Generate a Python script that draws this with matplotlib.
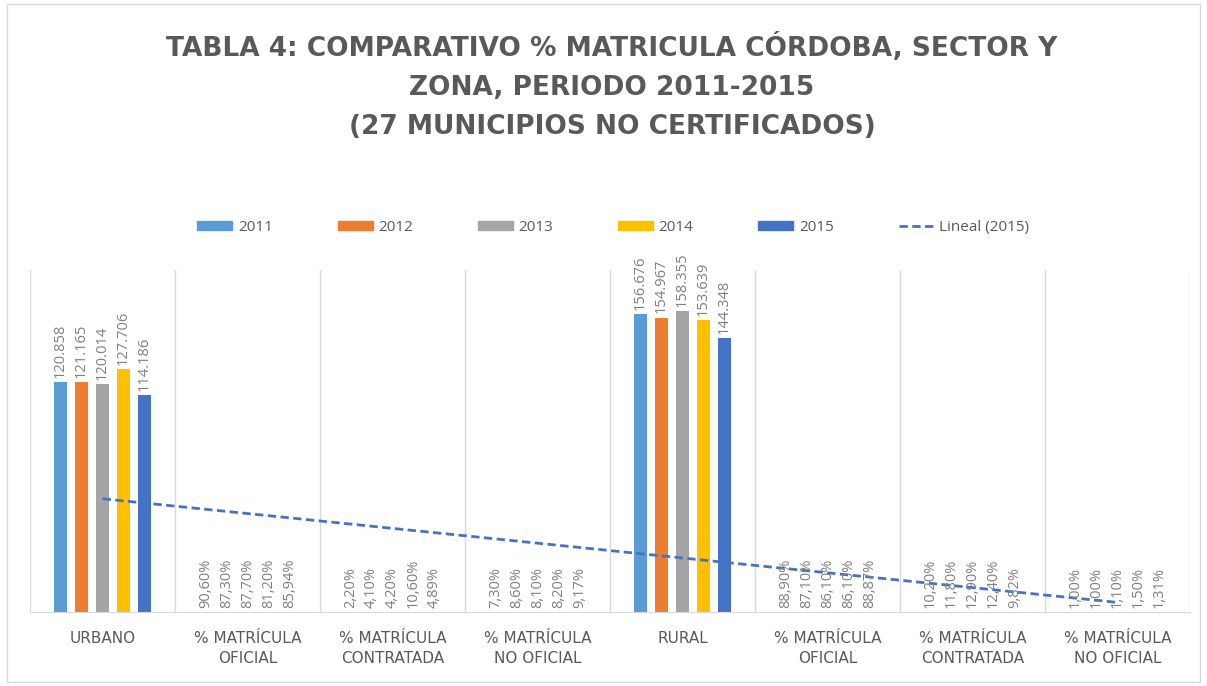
import numpy as np
import matplotlib
matplotlib.use("Agg")
import matplotlib.pyplot as plt
from matplotlib.patches import Rectangle
from matplotlib.lines import Line2D

plt.rcParams["font.family"] = ["Open Sans", "DejaVu Sans"]

categories = ["URBANO", "% MATRÍCULA\nOFICIAL", "% MATRÍCULA\nCONTRATADA", "% MATRÍCULA\nNO OFICIAL",
              "RURAL", "% MATRÍCULA\nOFICIAL", "% MATRÍCULA\nCONTRATADA", "% MATRÍCULA\nNO OFICIAL"]
years = ["2011", "2012", "2013", "2014", "2015"]
is_pct = [False, True, True, True, False, True, True, True]

v2011 = [120858, 0.9060, 0.0220, 0.0730, 156676, 0.8890, 0.1020, 0.0100]
v2012 = [121165, 0.8730, 0.0410, 0.0860, 154967, 0.8710, 0.1180, 0.0100]
v2013 = [120014, 0.8770, 0.0420, 0.0810, 158355, 0.8610, 0.1290, 0.0110]
v2014 = [127706, 0.8120, 0.1060, 0.0820, 153639, 0.8610, 0.1240, 0.0150]
v2015 = [114186, 0.8594, 0.0489, 0.0917, 144348, 0.8887, 0.0982, 0.0131]
series = [v2011, v2012, v2013, v2014, v2015]
colors = ["#5B9BD5", "#ED7D31", "#A5A5A5", "#FFC000", "#4472C4"]

fig = plt.figure(figsize=(12.07, 6.86), dpi=100)
ax = fig.add_axes([0.0249, 0.1079, 0.961, 0.4985])

x = np.arange(len(categories))
step = 0.145
width = 0.085


def fmt(v, pct):
    if pct:
        return f"{v * 100:.2f}%".replace(".", ",")
    return f"{v:,.0f}".replace(",", ".")


for i, (vals, c, yr) in enumerate(zip(series, colors, years)):
    xpos = x + (i - 2) * step
    ax.bar(xpos, vals, width=width, color=c, label=yr, zorder=2)
    for xp, v, p in zip(xpos, vals, is_pct):
        ax.annotate(fmt(v, p), (xp, v), xytext=(0, 3), textcoords="offset points",
                    rotation=90, ha="center", va="bottom", fontsize=10.5,
                    color="#7F7F7F", zorder=4)

# linear trend of 2015
coef = np.polyfit(x, v2015, 1)
ax.plot(x, np.polyval(coef, x), color="#4472C4", lw=2, ls=(0, (3, 1.6)), zorder=3)

ax.set_xlim(-0.5, len(categories) - 0.5)
ax.set_ylim(0, 180000)
ax.set_yticks([])
ax.set_xticks(x)
ax.set_xticklabels(categories, fontsize=11, color="#595959", linespacing=1.4,
                   family=["DejaVu Sans"])
ax.tick_params(axis="x", length=0, pad=14)
for s in ["top", "left", "right"]:
    ax.spines[s].set_visible(False)
ax.spines["bottom"].set_color("#D9D9D9")
for b in np.arange(-0.5, len(categories), 1.0):
    ax.axvline(b, color="#D9D9D9", lw=1, zorder=1)

fig.text(0.507, 0.952, "TABLA 4: COMPARATIVO % MATRICULA CÓRDOBA, SECTOR Y\nZONA, PERIODO 2011-2015\n(27 MUNICIPIOS NO CERTIFICADOS)",
         ha="center", va="top", fontsize=19, fontweight="bold", color="#595959", linespacing=1.64,
         family=["DejaVu Sans"])

handles = [Rectangle((0, 0), 1, 1, color=c) for c in colors]
handles.append(Line2D([0], [0], color="#4472C4", lw=2, ls=(0, (3, 1.6))))
labels = years + ["Lineal (2015)"]
fig.legend(handles, labels, loc="center", bbox_to_anchor=(0.508, 0.668), ncol=6, frameon=False,
           fontsize=11, handlelength=2.3, handleheight=0.55, columnspacing=4.25, handletextpad=0.35,
           labelcolor="#595959")

fig.add_artist(Rectangle((0.006, 0.006), 0.988, 0.988, transform=fig.transFigure,
                         fill=False, edgecolor="#D9D9D9", lw=1))

fig.savefig("out.png", dpi=100)
